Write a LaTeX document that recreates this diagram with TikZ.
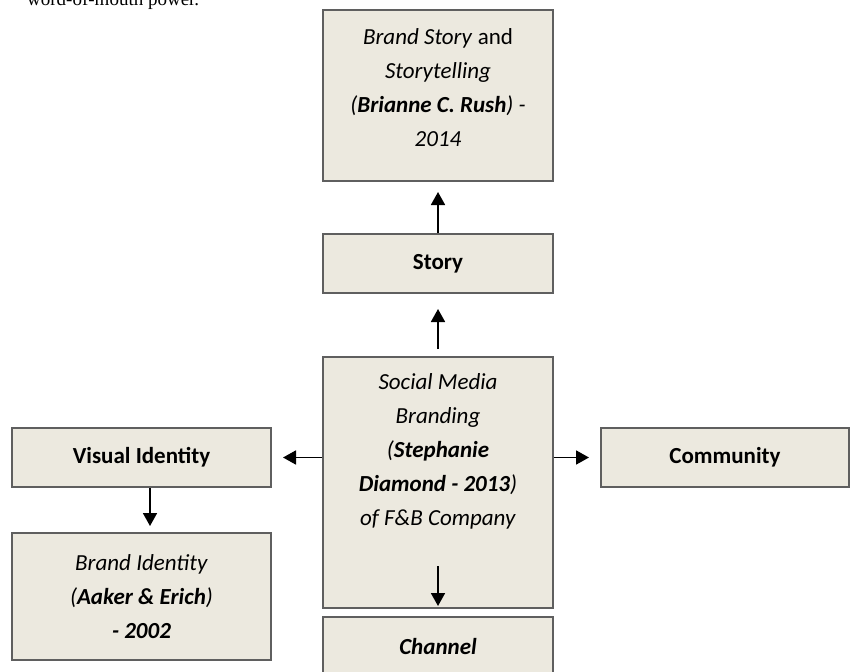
\documentclass[tikz,border=0pt]{standalone}
\usepackage{fontspec}
\setmainfont{Carlito}
\newfontfamily\prosefont{Liberation Serif}
\usepackage{tikz}
\usetikzlibrary{arrows.meta}
\definecolor{boxfill}{RGB}{236,233,223}
\definecolor{boxline}{RGB}{95,95,95}
\tikzset{
	box/.style={
		% The shape:
		rectangle,inner sep=0pt,
		% The border:
		line width=2pt,
		draw=boxline,
		% The filling:
		fill=boxfill,
		% The text:
		font=\fontsize{23}{34}\selectfont,align=center,
	}}
\tikzset{
	boxtext/.style={
		% only the text, no border
		inner sep=0pt,
		font=\fontsize{23}{34}\selectfont,align=center,
	}}
\tikzset{
	link/.style={
		% The line:
		line width=1.8pt,draw=black,
		% The tip:
		-{Triangle[length=13pt,width=14pt]},
	}}
\begin{document}
\begin{tikzpicture}[x=1pt,y=-1pt]
	\useasboundingbox (0,0) rectangle (850,671);
	\clip (0,0) rectangle (850,671);
	% end of the paragraph above the figure
	\node[anchor=base west,inner sep=0pt,font=\prosefont\fontsize{19}{19}\selectfont] (prose) at (27,6) {word-of-mouth power.};
	% middle column
	\node[box,minimum width=230pt,minimum height=171pt] (tale) at (438,95.5) {};
	\node[boxtext] (taletext) at (438,87.5) {\textit{Brand Story} and\\ \textit{Storytelling}\\ \textit{(\textbf{Brianne C. Rush}) -}\\ \textit{2014}};
	\node[box,minimum width=230pt,minimum height=59pt] (story) at (438,263.5) {\textbf{Story}};
	\node[box,minimum width=230pt,minimum height=251pt] (smb) at (438,482.5) {};
	\node[boxtext] (smbtext) at (438,451) {\textit{Social Media}\\ \textit{Branding}\\ \textit{(\textbf{Stephanie}}\\ \textit{\textbf{Diamond - 2013})}\\ \textit{of F\&B Company}};
	\node[box,minimum width=230pt,minimum height=59pt] (channel) at (438,646.5) {\textbf{\textit{Channel}}};
	\coordinate (chanstart) at ([yshift=43pt]smb.south);
	% left column
	\node[box,minimum width=259pt,minimum height=59pt] (visual) at (141.5,457.5) {\textbf{Visual Identity}};
	\node[box,minimum width=259pt,minimum height=127pt] (identity) at (141.5,596.5) {\textit{Brand Identity}\\ \textit{(\textbf{Aaker \& Erich})}\\ \textit{\textbf{- 2002}}};
	% right column
	\node[box,minimum width=248pt,minimum height=59pt] (community) at (725,457.5) {\textbf{Community}};
	% arrows
	\draw[link,shorten >=10pt] (story) -- (tale);
	\draw[link,shorten <=7pt,shorten >=15pt] (smb) -- (story);
	\draw[link,shorten >=11pt] (smb.east |- community.west) -- (community.west);
	\draw[link,shorten >=11pt] (smb.west |- visual.east) -- (visual.east);
	\draw[link,shorten >=6pt] ([xshift=8.5pt]visual.south) -- ([xshift=8.5pt]identity.north);
	\draw[link,shorten >=10pt] (chanstart) -- (channel.north);
\end{tikzpicture}
\end{document}
